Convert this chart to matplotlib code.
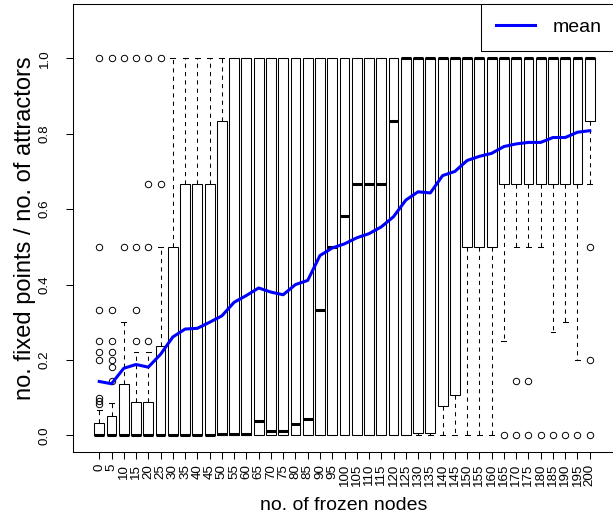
import matplotlib
matplotlib.use("Agg")
import matplotlib.pyplot as plt

plt.rcParams["font.family"] = ["Liberation Sans", "DejaVu Sans"]

# no. of frozen nodes
nodes = list(range(0, 201, 5))

q1 = [0.0] * 26 + [0.006, 0.006, 0.079, 0.108, 0.5, 0.5, 0.5] + [0.667] * 7 + [0.833]
medians = ([0.0] * 10
           + [0.004, 0.004, 0.005, 0.039, 0.011, 0.011, 0.031, 0.043, 0.333, 0.5,
              0.583, 0.667, 0.667, 0.667, 0.833]
           + [1.0] * 16)
q3 = [0.032, 0.052, 0.137, 0.089, 0.089, 0.236, 0.5, 0.667, 0.667, 0.667, 0.833] + [1.0] * 30
whis_hi = [0.067, 0.087, 0.3, 0.222, 0.222, 0.5] + [1.0] * 35
whis_lo = [0.0] * 33 + [0.25, 0.5, 0.5, 0.5, 0.273, 0.3, 0.2, 0.667]
outliers = {
    0: [1.0, 0.5, 0.333, 0.25, 0.222, 0.2, 0.1, 0.091, 0.083],
    5: [1.0, 0.333, 0.25, 0.222, 0.2, 0.182, 0.143],
    10: [1.0, 0.5],
    15: [1.0, 0.5, 0.333, 0.25],
    20: [1.0, 0.667, 0.5, 0.25],
    25: [1.0, 0.667],
    165: [0.0],
    170: [0.143, 0.0],
    175: [0.143, 0.0],
    180: [0.0],
    185: [0.0],
    190: [0.0],
    195: [0.0],
    200: [0.5, 0.2, 0.0],
}
means = [0.143, 0.137, 0.178, 0.188, 0.181, 0.215, 0.261, 0.282, 0.284, 0.300,
         0.317, 0.353, 0.371, 0.391, 0.380, 0.373, 0.400, 0.411, 0.477, 0.497,
         0.508, 0.524, 0.535, 0.553, 0.580, 0.624, 0.646, 0.643, 0.689, 0.700,
         0.729, 0.740, 0.748, 0.766, 0.773, 0.777, 0.777, 0.790, 0.790, 0.804,
         0.808]

W, H = 613, 516
fig = plt.figure(figsize=(W / 100, H / 100), dpi=100)
ax = fig.add_axes([73 / W, (H - 452) / H, (616 - 73) / W, (452 - 4) / H])

positions = list(range(1, len(nodes) + 1))
stats = []
for i, n in enumerate(nodes):
    stats.append({
        "med": medians[i], "q1": q1[i], "q3": q3[i],
        "whislo": whis_lo[i], "whishi": whis_hi[i],
        "fliers": outliers.get(n, []),
    })

ax.bxp(
    stats, positions=positions, widths=0.8, capwidths=0.4,
    patch_artist=True, manage_ticks=False,
    boxprops=dict(facecolor="white", edgecolor="black", linewidth=0.75),
    medianprops=dict(color="black", linewidth=2.2, solid_capstyle="butt"),
    whiskerprops=dict(color="black", linewidth=0.75, linestyle=(0, (4, 4))),
    capprops=dict(color="black", linewidth=0.75),
    flierprops=dict(marker="o", markersize=4.6, markerfacecolor="none",
                    markeredgecolor="black", markeredgewidth=0.7),
)

ax.plot(positions, means, color="#0000ff", linewidth=2.2, label="mean", zorder=5)

n = len(nodes)
ax.set_xlim(0.5 - 0.04 * n, n + 0.5 + 0.04 * n)
ax.set_ylim(-0.044, 1.144)

ax.set_xticks(positions, [str(v) for v in nodes], rotation=90, fontsize=9.6)
ax.set_yticks([0.0, 0.2, 0.4, 0.6, 0.8, 1.0],
              ["0.0", "0.2", "0.4", "0.6", "0.8", "1.0"], fontsize=9.6)
for lab in ax.get_yticklabels():
    lab.set_rotation(90)
    lab.set_va("center")
ax.tick_params(axis="x", length=5, width=0.75, pad=3.5)
ax.tick_params(axis="y", length=5, width=0.75, pad=11)
for sp in ax.spines.values():
    sp.set_linewidth(0.75)

fig.text(344 / W, 1 - 506 / H, "no. of frozen nodes", ha="center", va="center",
         fontsize=14)
fig.text(25 / W, 1 - 228 / H, "no. fixed points / no. of attractors",
         ha="center", va="center", rotation=90, fontsize=17)

leg = ax.legend(loc="upper right", borderaxespad=0, fancybox=False,
                edgecolor="black", framealpha=1, fontsize=14,
                handlelength=2.0, handletextpad=0.9, borderpad=0.75)
leg.get_frame().set_linewidth(0.75)

fig.savefig("out.png", dpi=100)
